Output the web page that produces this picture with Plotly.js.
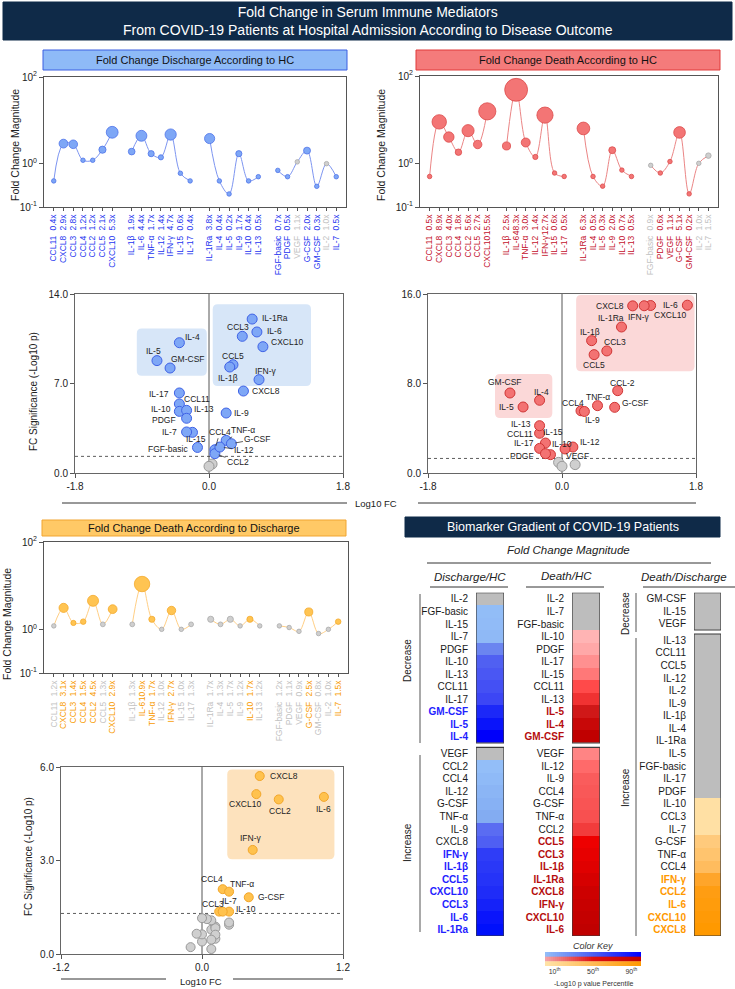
<!DOCTYPE html>
<html>
<head>
<meta charset="utf-8">
<script src="https://cdn.plot.ly/plotly-3.0.1.min.js"></script>
<style>
  html, body { margin: 0; padding: 0; background: #fff; }
  #chart { width: 735px; height: 989px; }
</style>
</head>
<body>
<div id="chart"></div>
<script>
// ---------------- data ----------------
// Mediators in x-axis order (four groups: chemokines, cytokines, interleukins, growth factors / others)
const mediators = ['CCL11','CXCL8','CCL3','CCL4','CCL2','CCL5','CXCL10',
                   'IL-1β','IL-6','TNF-α','IL-12','IFN-γ','IL-15','IL-17',
                   'IL-1Ra','IL-4','IL-5','IL-9','IL-10','IL-13',
                   'FGF-basic','PDGF','VEGF','G-CSF','GM-CSF','IL-2','IL-7'];
const groupSizes = [7, 7, 6, 7];

// Fold change (ratio) per mediator
const fcDischargeHC    = [0.4,2.9,2.8,1.2,1.2,2.1,5.3, 1.9,4.4,1.7,1.4,4.7,0.6,0.4, 3.8,0.4,0.2,1.7,0.4,0.5, 0.7,0.5,1.1,2.0,0.3,1.0,0.5];
const fcDeathHC        = [0.5,8.9,4.0,1.8,5.6,2.7,15.5, 2.5,48.3,3.0,1.4,12.7,0.6,0.5, 6.3,0.5,0.3,2.0,0.7,0.5, 0.9,0.6,1.1,5.1,0.2,1.0,1.5];
const fcDeathDischarge = [1.2,3.1,1.4,1.5,4.5,1.3,2.9, 1.3,10.9,1.7,1.0,2.7,1.0,1.3, 1.7,1.3,1.7,1.2,1.7,1.2, 1.2,1.1,0.9,2.5,0.8,1.0,1.5];

// Significance, -log10(p), same order
const sigDischargeHC    = [5.40,6.41,10.69,1.82,1.51,8.47,9.88, 8.29,11.03,2.55,2.03,7.30,3.18,6.26, 12.04,10.19,8.79,4.69,4.82,4.90, 2.00,4.28,0.70,2.29,8.21,0.52,3.21];
const sigDeathHC        = [3.55,14.94,10.91,5.56,7.36,10.58,14.97, 11.83,15.00,6.02,2.32,14.95,2.68,2.20, 13.05,6.50,5.90,5.50,1.64,4.23, 0.95,1.73,2.15,5.87,7.15,0.60,0.75];
const sigDeathDischarge = [0.78,5.71,1.36,2.08,4.96,0.88,5.13, 0.49,5.04,2.00,0.40,3.34,0.63,0.83, 0.94,0.62,1.01,0.16,1.36,1.08, 0.46,1.12,0.65,1.82,0.22,1.15,1.36];

// Mediators in the highlighted (boxed) region of each volcano plot
const boxedDischargeHC    = ['IL-4','IL-5','GM-CSF','IL-1Ra','IL-6','CCL3','CXCL10','CCL5','IL-1β','IFN-γ'];
const boxedDeathHC        = ['GM-CSF','IL-4','IL-5','CXCL8','IFN-γ','CXCL10','IL-6','IL-1Ra','IL-1β','CCL3','CCL5'];
const boxedDeathDischarge = ['CXCL8','CXCL10','CCL2','IL-6','IFN-γ'];

// Gradient rows (top to bottom)
const hmDischargeDecrease = ['IL-2','FGF-basic','IL-15','IL-7','PDGF','IL-10','IL-13','CCL11','IL-17','GM-CSF','IL-5','IL-4'];
const hmDischargeIncrease = ['VEGF','CCL2','CCL4','IL-12','G-CSF','TNF-α','IL-9','CXCL8','IFN-γ','IL-1β','CCL5','CXCL10','CCL3','IL-6','IL-1Ra'];
const hmDeathDecrease     = ['IL-2','IL-7','FGF-basic','IL-10','PDGF','IL-17','IL-15','CCL11','IL-13','IL-5','IL-4','GM-CSF'];
const hmDeathIncrease     = ['VEGF','IL-12','IL-9','CCL4','G-CSF','TNF-α','CCL2','CCL5','CCL3','IL-1β','IL-1Ra','CXCL8','IFN-γ','CXCL10','IL-6'];
const hmDDDecrease        = ['GM-CSF','IL-15','VEGF'];
const hmDDIncrease        = ['IL-13','CCL11','CCL5','IL-12','IL-2','IL-9','IL-1β','IL-4','IL-1Ra','IL-5','FGF-basic','IL-17','PDGF',
                             'IL-10','CCL3','IL-7','G-CSF','TNF-α','CCL4','IFN-γ','CCL2','IL-6','CXCL10','CXCL8'];

const keyPercentiles = [10, 50, 90];

// ---------------- helpers ----------------
const W = 735, H = 989;
const px = x => x / W;
const py = y => 1 - y / H;
const SIG = -Math.log10(0.05);
const FONT = '"Liberation Sans", Arial, sans-serif';

function hasFont(name) {
  const c = document.createElement('canvas').getContext('2d');
  const t = 'CXCL10 IL-1Ra 48.3x';
  c.font = '20px monospace';
  const a = c.measureText(t).width;
  c.font = '20px "' + name + '", monospace';
  return c.measureText(t).width !== a;
}
const NARROW = hasFont('Liberation Sans Narrow');
const TICK_FAMILY = NARROW ? '"Liberation Sans Narrow", "Liberation Sans", Arial, sans-serif' : FONT;
const TICK_SIZE = NARROW ? 9.5 : 8.5;

const NS_FILL = '#cfcfcf', NS_EDGE = '#a9a9a9', NS_TXT = '#c2c2c2', NS_CELL = '#bdbdbd';

function axisKey(id) { return (id[0] === 'x' ? 'xaxis' : 'yaxis') + id.slice(1); }

// x slot of each mediator, one empty slot between groups
const slot = [];
(function () { let s = 0; groupSizes.forEach(n => { for (let k = 0; k < n; k++) slot.push(s++); s++; }); })();

// bubble diameter from fold change
const bubble = fc => Math.max(4.5, 3.5 + 11.5 * Math.log10(fc));

const traces = [];
const layout = {
  width: W, height: H,
  margin: { l: 0, r: 0, t: 0, b: 0 },
  paper_bgcolor: '#fff', plot_bgcolor: '#fff',
  showlegend: false,
  font: { family: FONT, size: 10, color: '#222' },
  shapes: [], annotations: []
};
const S = layout.shapes, A = layout.annotations;

function paperRect(x0, y0, x1, y1, fill, line, lw) {
  S.push({ type: 'rect', xref: 'paper', yref: 'paper', x0: px(x0), x1: px(x1), y0: py(y1), y1: py(y0),
           fillcolor: fill, line: { color: line || fill, width: lw === undefined ? 1 : lw } });
}
function paperLine(x0, y0, x1, y1, color, w) {
  S.push({ type: 'line', xref: 'paper', yref: 'paper', x0: px(x0), x1: px(x1), y0: py(y0), y1: py(y1),
           line: { color: color || '#333', width: w || 1 } });
}
function text(x, y, t, opt) {
  A.push(Object.assign({ xref: 'paper', yref: 'paper', x: px(x), y: py(y), text: t, showarrow: false,
                         xanchor: 'center', yanchor: 'middle', font: { size: 10, color: '#222' } }, opt || {}));
}

// ---------------- header ----------------
paperRect(3, 2, 732, 40, '#0f2a48');
text(367.5, 21, 'Fold Change in Serum Immune Mediators<br>From COVID-19 Patients at Hospital Admission According to Disease Outcome',
     { font: { size: 14, color: '#fff' } });

// ---------------- lollipop panels ----------------
const lollipops = [
  { fc: fcDischargeHC, sig: sigDischargeHC, xa: 'x', ya: 'y', nx: 'x11', dom: [44, 346], vdom: [77, 207],
    fill: '#7ea7f6', edge: '#4f74ea', line: '#7d95f1', label: '#2436f0',
    title: 'Fold Change Discharge According to HC', bar: [43, 50, 347, 70], barFill: '#8ebaf7', barLine: '#3a5ee2',
    ytitle: [15, 145] },
  { fc: fcDeathHC, sig: sigDeathHC, xa: 'x2', ya: 'y2', nx: 'x12', dom: [420, 718], vdom: [76, 207],
    fill: '#f37575', edge: '#dc4b4b', line: '#eb8585', label: '#c3102b',
    title: 'Fold Change Death According to HC', bar: [416, 50, 720, 70], barFill: '#f47b7b', barLine: '#e03a3a',
    ytitle: [381, 145] },
  { fc: fcDeathDischarge, sig: sigDeathDischarge, xa: 'x5', ya: 'y5', nx: 'x13', dom: [44, 348], vdom: [542, 673],
    fill: '#ffc452', edge: '#f4a92c', line: '#ffcf85', label: '#f89b00',
    title: 'Fold Change Death According to Discharge', bar: [42, 520, 346, 536], barFill: '#ffc966', barLine: '#f1a531',
    ytitle: [7, 624] }
];

lollipops.forEach(p => {
  const isSig = p.sig.map(s => s >= SIG);
  // connecting spline, broken between groups
  const lx = [], ly = [];
  let i = 0;
  groupSizes.forEach(n => {
    for (let k = 0; k < n; k++, i++) { lx.push(slot[i]); ly.push(p.fc[i]); }
    lx.push(slot[i - 1] + 1); ly.push(null);
  });
  traces.push({ type: 'scatter', mode: 'lines', x: lx, y: ly, xaxis: p.xa, yaxis: p.ya, connectgaps: false,
                line: { shape: 'spline', smoothing: 1, color: p.line, width: 1 }, hoverinfo: 'skip' });
  traces.push({ type: 'scatter', mode: 'markers', x: slot, y: p.fc, xaxis: p.xa, yaxis: p.ya, cliponaxis: false,
                marker: { size: p.fc.map(bubble), color: isSig.map(s => s ? p.fill : NS_FILL),
                          line: { width: 0.8, color: isSig.map(s => s ? p.edge : NS_EDGE) }, opacity: 1 },
                hoverinfo: 'skip' });
  // carrier for the mediator-name axis
  traces.push({ type: 'scatter', mode: 'markers', x: [slot[0]], y: [p.fc[0]], xaxis: p.nx, yaxis: p.ya,
                marker: { opacity: 0, size: 1 }, hoverinfo: 'skip' });

  const common = { range: [-1, 30], tickvals: slot, tickangle: -90, showgrid: false, zeroline: false, fixedrange: true,
                   tickfont: { family: TICK_FAMILY, size: TICK_SIZE } };
  layout[axisKey(p.xa)] = Object.assign({}, common, {
    domain: [px(p.dom[0]), px(p.dom[1])], anchor: p.ya,
    ticktext: p.fc.map((v, k) => '<span style="color:' + (isSig[k] ? p.label : NS_TXT) + '">' + v.toFixed(1) + 'x</span>'),
    ticks: 'outside', ticklen: 3, tickcolor: '#555', showline: true, linecolor: '#555', linewidth: 1, mirror: true
  });
  layout[axisKey(p.nx)] = Object.assign({}, common, {
    overlaying: p.xa, anchor: p.ya, side: 'bottom',
    ticktext: mediators.map((m, k) => '<span style="color:' + (isSig[k] ? p.label : NS_TXT) + '">' + m + '</span>'),
    ticks: '', ticklabelstandoff: 26, showline: false
  });
  layout[axisKey(p.ya)] = {
    domain: [py(p.vdom[1]), py(p.vdom[0])], anchor: p.xa, type: 'log', range: [-1, 2],
    tickvals: [0.1, 1, 100], ticktext: ['10<sup>-1</sup>', '10<sup>0</sup>', '10<sup>2</sup>'],
    ticks: 'outside', ticklen: 4, tickcolor: '#555', showline: true, linecolor: '#555', linewidth: 1, mirror: true,
    showgrid: false, zeroline: false, fixedrange: true, tickfont: { size: 10, color: '#222' }
  };
  // reference line at fold change = 1
  S.push({ type: 'line', xref: p.xa + ' domain', yref: p.ya, x0: 0, x1: 1, y0: 0, y1: 0, layer: 'below',
           line: { color: '#a9a9a9', width: 1, dash: 'dash' } });
  // title bar
  paperRect(p.bar[0], p.bar[1], p.bar[2], p.bar[3], p.barFill, p.barLine, 1);
  text((p.bar[0] + p.bar[2]) / 2, (p.bar[1] + p.bar[3]) / 2, p.title, { font: { size: 11, color: '#111' } });
  text(p.ytitle[0], p.ytitle[1], 'Fold Change Magnitude', { textangle: -90, font: { size: 10.5, color: '#222' } });
});

// ---------------- volcano panels ----------------
const labelsV1 = {
  'IL-1Ra': ['left', 8, 1], 'IL-6': ['left', 8, 1], 'CCL3': ['center', -4, 9], 'CXCL10': ['left', 6, 5],
  'IL-4': ['left', 4, 6], 'IL-5': ['center', -3, 10], 'GM-CSF': ['left', -1, 9], 'CCL5': ['center', 0, 9],
  'IL-1β': ['center', -2, -11], 'IFN-γ': ['center', 7, 9], 'CXCL8': ['left', 7, 0], 'IL-17': ['right', -8, -1],
  'CCL11': ['left', 3, 5], 'IL-10': ['right', -6, 2], 'IL-13': ['left', 5, 1], 'PDGF': ['right', -9, -2],
  'IL-9': ['left', 6, 0], 'IL-7': ['right', -8, 0], 'IL-15': ['center', 4, -6.5], 'FGF-basic': ['right', -7, -1.5],
  'CCL4': { ax: 5, ay: -18 }, 'TNF-α': { ax: 17, ay: -10 }, 'G-CSF': { ax: 26, ay: -5 },
  'IL-12': { ax: 24, ay: 3 }, 'CCL2': { ax: 23, ay: 8 }
};
const labelsV2 = {
  'CXCL8': ['right', -7, 0], 'IFN-γ': ['center', -5, -11], 'CXCL10': ['left', 1, -9], 'IL-6': ['right', -7, 0],
  'IL-1Ra': ['center', -11, 9], 'IL-1β': ['center', -2, 9], 'CCL3': ['center', 8, 9], 'CCL5': ['center', 0, -10],
  'CCL2': ['center', 5, 8, 'CCL-2'], 'TNF-α': ['center', 0, 9], 'G-CSF': ['left', 5, 4], 'CCL4': ['center', -8, 8],
  'IL-9': ['center', 8, -9], 'GM-CSF': ['center', -5, 11], 'IL-4': ['center', 2, 8], 'IL-5': ['right', -7, 0],
  'IL-13': ['right', -7, 2], 'CCL11': ['right', -5, -1], 'IL-15': ['center', 8, 11], 'IL-17': ['right', -4, 5],
  'PDGF': ['right', -9, -2], 'IL-10': ['center', 12, 11], 'VEGF': ['center', 12, -7], 'IL-12': ['left', 5, 5]
};
const labelsV3 = {
  'CXCL8': ['left', 8, 0], 'CXCL10': ['center', -11, -10], 'CCL2': ['center', 1, -12], 'IL-6': ['center', 0, -12],
  'IFN-γ': ['center', -2, 12], 'CCL4': ['center', -11, 10], 'TNF-α': ['center', 13, 8], 'G-CSF': ['left', 7, 0],
  'CCL3': ['center', -6, 8], 'IL-7': ['center', 7, 11], 'IL-10': ['left', 5, 3]
};

const volcanoes = [
  { fc: fcDischargeHC, sig: sigDischargeHC, xa: 'x3', ya: 'y3', dom: [75, 343], vdom: [294, 473], xr: 1.8, yr: 14,
    ms: 10, fill: '#7ea7f6', edge: '#3f62e6', labels: labelsV1, boxFill: '#d7e6f8',
    boxes: [[-0.97, -0.03, 7.6, 11.3], [0.05, 1.37, 6.8, 13.2]], ytitle: [33, 392] },
  { fc: fcDeathHC, sig: sigDeathHC, xa: 'x4', ya: 'y4', dom: [428, 696], vdom: [294, 473], xr: 1.8, yr: 16,
    ms: 10, fill: '#f37272', edge: '#cf3535', labels: labelsV2, boxFill: '#fbd8d8',
    boxes: [[-0.90, -0.13, 4.92, 8.85], [0.19, 1.78, 9.09, 15.9]], ytitle: null },
  { fc: fcDeathDischarge, sig: sigDeathDischarge, xa: 'x6', ya: 'y6', dom: [61, 343], vdom: [767, 954], xr: 1.2, yr: 6,
    ms: 9, fill: '#ffc24e', edge: '#f2a62a', labels: labelsV3, boxFill: '#fde2bd',
    boxes: [[0.215, 1.127, 3.04, 5.92]], ytitle: [28, 857] }
];

function roundBox(x0, x1, y0, y1, rx, ry) {
  return 'M' + (x0 + rx) + ',' + y0 + ' L' + (x1 - rx) + ',' + y0 + ' Q' + x1 + ',' + y0 + ' ' + x1 + ',' + (y0 + ry) +
         ' L' + x1 + ',' + (y1 - ry) + ' Q' + x1 + ',' + y1 + ' ' + (x1 - rx) + ',' + y1 +
         ' L' + (x0 + rx) + ',' + y1 + ' Q' + x0 + ',' + y1 + ' ' + x0 + ',' + (y1 - ry) +
         ' L' + x0 + ',' + (y0 + ry) + ' Q' + x0 + ',' + y0 + ' ' + (x0 + rx) + ',' + y0 + ' Z';
}

volcanoes.forEach(v => {
  const lx = v.fc.map(f => Math.log10(f));
  const nsIdx = [], sIdx = [];
  v.sig.forEach((s, i) => (s >= SIG ? sIdx : nsIdx).push(i));
  traces.push({ type: 'scatter', mode: 'markers', xaxis: v.xa, yaxis: v.ya,
                x: nsIdx.map(i => lx[i]), y: nsIdx.map(i => v.sig[i]),
                marker: { size: v.ms, color: NS_FILL, line: { color: '#999', width: 1 } }, hoverinfo: 'skip' });
  traces.push({ type: 'scatter', mode: 'markers', xaxis: v.xa, yaxis: v.ya,
                x: sIdx.map(i => lx[i]), y: sIdx.map(i => v.sig[i]),
                marker: { size: v.ms, color: v.fill, line: { color: v.edge, width: 1 } }, hoverinfo: 'skip' });

  const xs = (v.dom[1] - v.dom[0]) / (2 * v.xr), ys = (v.vdom[1] - v.vdom[0]) / v.yr;
  const axStyle = { ticks: 'outside', ticklen: 4, tickcolor: '#555', showline: true, linecolor: '#666', linewidth: 1,
                    mirror: true, showgrid: false, zeroline: false, fixedrange: true, tickfont: { size: 10, color: '#222' } };
  layout[axisKey(v.xa)] = Object.assign({}, axStyle, {
    domain: [px(v.dom[0]), px(v.dom[1])], anchor: v.ya, range: [-v.xr, v.xr],
    tickvals: [-v.xr, 0, v.xr], ticktext: [(-v.xr).toFixed(1), '0.0', v.xr.toFixed(1)] });
  layout[axisKey(v.ya)] = Object.assign({}, axStyle, {
    domain: [py(v.vdom[1]), py(v.vdom[0])], anchor: v.xa, range: [0, v.yr],
    tickvals: [0, v.yr / 2, v.yr], ticktext: [0, v.yr / 2, v.yr].map(t => t.toFixed(1)) });

  v.boxes.forEach(b => {
    S.push({ type: 'path', xref: v.xa, yref: v.ya, layer: 'below', fillcolor: v.boxFill, line: { width: 0 },
             path: roundBox(b[0], b[1], b[2], b[3], 5 / xs, 5 / ys) });
  });
  S.push({ type: 'line', xref: v.xa, yref: v.ya, x0: 0, x1: 0, y0: 0, y1: v.yr, layer: 'below',
           line: { color: '#555', width: 1 } });
  S.push({ type: 'line', xref: v.xa, yref: v.ya, x0: -v.xr, x1: v.xr, y0: SIG, y1: SIG, layer: 'below',
           line: { color: '#333', width: 0.8, dash: 'dot' } });

  Object.keys(v.labels).forEach(name => {
    const cfg = v.labels[name];
    const i = mediators.indexOf(name);
    const base = { xref: v.xa, yref: v.ya, x: lx[i], y: v.sig[i], font: { size: 8.5, color: '#222' } };
    if (Array.isArray(cfg)) {
      A.push(Object.assign(base, { text: cfg[3] || name, showarrow: false, xanchor: cfg[0], yanchor: 'middle',
                                   xshift: cfg[1], yshift: cfg[2] }));
    } else {
      A.push(Object.assign(base, { text: name, showarrow: true, arrowhead: 0, arrowwidth: 0.8, arrowcolor: '#333',
                                   ax: cfg.ax, ay: cfg.ay, standoff: 4 }));
    }
  });
  if (v.ytitle) text(v.ytitle[0], v.ytitle[1], 'FC Significance (-Log10 p)', { textangle: -90, font: { size: 10, color: '#222' } });
});

// shared x titles of the volcano plots
text(376, 503, 'Log10 FC', { font: { size: 9.5, color: '#222' } });
paperLine(62, 503, 347, 503, '#333', 1);
paperLine(418, 503, 696, 503, '#333', 1);
text(201, 981, 'Log10 FC', { font: { size: 9.5, color: '#222' } });
paperLine(61, 979, 166, 979, '#333', 1);
paperLine(233, 979, 343, 979, '#333', 1);

// ---------------- biomarker gradient ----------------
paperRect(405, 517, 720, 537, '#0f2a48');
text(562.5, 527, 'Biomarker Gradient of COVID-19 Patients', { font: { size: 12.5, color: '#fff' } });
text(568, 550, '<i>Fold Change Magnitude</i>', { font: { size: 11.5, color: '#222' } });
paperLine(427, 563, 711, 563, '#333', 1);
text(470, 577, '<i>Discharge/HC</i>', { font: { size: 11.5, color: '#222' } });
text(566, 576, '<i>Death/HC</i>', { font: { size: 11.5, color: '#222' } });
text(684, 577, '<i>Death/Discharge</i>', { font: { size: 11.5, color: '#222' } });
paperLine(430, 587, 508, 587, '#333', 1);
paperLine(526, 587, 604, 587, '#333', 1);
paperLine(643, 587, 735, 587, '#333', 1);

// side brackets
text(407, 661, 'Decrease', { textangle: -90 });
paperLine(420, 594, 420, 743, '#555', 1);
text(407, 843, 'Increase', { textangle: -90 });
paperLine(420, 755, 420, 932, '#555', 1);
text(625, 614, 'Decrease', { textangle: -90 });
paperLine(636, 593, 636, 632, '#555', 1);
text(625, 788, 'Increase', { textangle: -90 });
paperLine(636, 638, 636, 936, '#555', 1);

function percentiles(vals) {
  const s = vals.filter(v => v !== null).sort((a, b) => a - b), n = s.length;
  return vals.map(v => {
    if (v === null) return null;
    const lo = s.filter(u => u < v).length, eq = s.filter(u => u === v).length;
    return n > 1 ? (lo + (eq - 1) / 2) / (n - 1) : 1;
  });
}
function withGray(scale) {
  return [[0, NS_CELL], [0.19, NS_CELL]].concat(scale.map(st => [0.2 + 0.8 * st[0], st[1]]));
}

const blueDec = [[0, '#92bdf7'], [0.2, '#8fb9f6'], [0.3, '#6b85f0'], [0.4, '#5060f2'], [0.5, '#4a57f3'], [0.6, '#4450f4'],
                 [0.7, '#3c46f5'], [0.8, '#1c28f8'], [0.9, '#0a14fa'], [1, '#0000fa']];
const blueInc = [[0, '#93bef8'], [0.31, '#83acf2'], [0.385, '#5a6cf2'], [0.46, '#5060f3'], [0.54, '#2e3cf7'], [0.62, '#2a38f7'],
                 [0.69, '#2533f8'], [0.77, '#1f2cf8'], [0.85, '#1521f9'], [0.92, '#0a15fb'], [1, '#0010fb']];
const redDec  = [[0, '#ffb4b4'], [0.125, '#ffa8a8'], [0.25, '#ff9090'], [0.375, '#ff7878'], [0.5, '#ff4a4a'], [0.625, '#f03232'],
                 [0.75, '#d01818'], [0.875, '#c80808'], [1, '#c00000']];
const redInc  = [[0, '#ff8484'], [0.07, '#ff6a6a'], [0.14, '#fa5c5c'], [0.36, '#f85050'], [0.43, '#f23c3c'], [0.5, '#ee0000'],
                 [0.64, '#e00000'], [0.79, '#cc0000'], [1, '#c00000']];
const orgInc  = [[0, '#ffe2a8'], [0.1, '#ffe0a4'], [0.3, '#ffca7c'], [0.4, '#ffc46e'], [0.5, '#ffbc5e'], [0.6, '#ffa52a'],
                 [0.7, '#ff9d12'], [1, '#ff9900']];

const gradCols = [
  { dec: hmDischargeDecrease, inc: hmDischargeIncrease, sig: sigDischargeHC, boxed: boxedDischargeHC,
    xa: 'x7', ya: 'y7', dom: [476, 504], decSpan: [592.7, 743], incSpan: [747.3, 936], scales: [blueDec, blueInc], hi: '#1f22ff' },
  { dec: hmDeathDecrease, inc: hmDeathIncrease, sig: sigDeathHC, boxed: boxedDeathHC,
    xa: 'x8', ya: 'y8', dom: [572, 600], decSpan: [592.7, 743], incSpan: [747.3, 936], scales: [redDec, redInc], hi: '#b50d0d' },
  { dec: hmDDDecrease, inc: hmDDIncrease, sig: sigDeathDischarge, boxed: boxedDeathDischarge,
    xa: 'x9', ya: 'y9', dom: [694, 721], decSpan: [592.7, 630], incSpan: [634, 936], scales: [orgInc, orgInc], hi: '#ff9900' }
];

gradCols.forEach(c => {
  const tickvals = [], ticktext = [];
  [[c.dec, c.decSpan, c.scales[0]], [c.inc, c.incSpan, c.scales[1]]].forEach(sec => {
    const names = sec[0], span = sec[1];
    const vals = names.map(n => { const s = c.sig[mediators.indexOf(n)]; return s >= SIG ? s : null; });
    const pct = percentiles(vals);
    const h = (span[1] - span[0]) / names.length;
    const edges = names.map((n, k) => span[0] + k * h).concat([span[1]]);
    traces.push({ type: 'heatmap', xaxis: c.xa, yaxis: c.ya, x: [0, 1], y: edges,
                  z: pct.map(p => [p === null ? -0.25 : p]), zmin: -0.25, zmax: 1,
                  colorscale: withGray(sec[2]), showscale: false, hoverinfo: 'skip' });
    names.forEach((n, k) => {
      tickvals.push(span[0] + (k + 0.5) * h);
      ticktext.push(c.boxed.indexOf(n) >= 0 ? '<b><span style="color:' + c.hi + '">' + n + '</span></b>' : n);
    });
    S.push({ type: 'rect', xref: c.xa, yref: c.ya, x0: 0, x1: 1, y0: span[0], y1: span[1],
             line: { color: '#3a3a3a', width: 1.2 }, fillcolor: 'rgba(0,0,0,0)' });
  });
  layout[axisKey(c.xa)] = { domain: [px(c.dom[0]), px(c.dom[1])], anchor: c.ya, range: [0, 1], visible: false, fixedrange: true };
  layout[axisKey(c.ya)] = { domain: [py(936), py(592.7)], anchor: c.xa, range: [936, 592.7], tickvals: tickvals, ticktext: ticktext,
                            ticks: 'outside', ticklen: 5, tickcolor: 'rgba(0,0,0,0)', showline: false, showgrid: false,
                            zeroline: false, fixedrange: true, tickfont: { size: 10, color: '#1a1a1a' } };
});

// colour key
const keyScales = [
  [[0, '#93bef8'], [0.5, '#4b5ff3'], [1, '#0000ff']],
  [[0, '#f4a3a8'], [0.5, '#e01010'], [1, '#c00000']],
  [[0, '#ffe3a8'], [0.5, '#ffbb55'], [1, '#ff9900']]
];
const keyEdges = [], keyMid = [];
for (let k = 0; k <= 48; k++) keyEdges.push(k * 100 / 48);
for (let k = 0; k < 48; k++) keyMid.push((keyEdges[k] + keyEdges[k + 1]) / 2);
keyScales.forEach((sc, r) => {
  traces.push({ type: 'heatmap', xaxis: 'x10', yaxis: 'y10', x: keyEdges, y: [r, r + 1], z: [keyMid],
                zmin: 0, zmax: 100, colorscale: sc, showscale: false, hoverinfo: 'skip' });
});
layout.xaxis10 = { domain: [px(545), px(641)], anchor: 'y10', range: [0, 100], tickvals: keyPercentiles,
                   ticktext: keyPercentiles.map(k => k + '<sup>th</sup>'), ticks: '', showline: false, showgrid: false,
                   zeroline: false, fixedrange: true, tickfont: { size: 7, color: '#333' } };
layout.yaxis10 = { domain: [py(966), py(952)], anchor: 'x10', range: [3, 0], visible: false, fixedrange: true };
text(593, 946, '<i>Color Key</i>', { font: { size: 9, color: '#333' } });
text(593, 984, '-Log10 p value Percentile', { font: { size: 7, color: '#333' } });

Plotly.newPlot('chart', traces, layout, { staticPlot: true, displayModeBar: false });
</script>
</body>
</html>
